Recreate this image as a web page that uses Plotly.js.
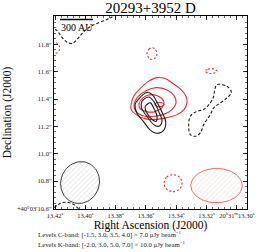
<!DOCTYPE html>
<html>
<head>
<meta charset="utf-8">
<script src="https://cdn.plot.ly/plotly-3.0.1.min.js"></script>
<style>html,body{margin:0;padding:0;background:#fff;}#chart{width:264px;height:252px;}</style>
</head>
<body>
<div id="chart"></div>
<script>
// Axis ticks
const raTicks = [13.42, 13.40, 13.38, 13.36, 13.34, 13.32, 13.30];
const raTickText = ['13.42<sup>s</sup>', '13.40<sup>s</sup>', '13.38<sup>s</sup>', '13.36<sup>s</sup>', '13.34<sup>s</sup>', '13.32<sup>s</sup>', '20<sup>h</sup>31<sup>m</sup>13.30<sup>s</sup>'];
const decTicks = [10.6, 10.8, 11.0, 11.2, 11.4, 11.6, 11.8];
const decTickText = ['+40°03′10.6″', '10.8″', '11.0″', '11.2″', '11.4″', '11.6″', '11.8″'];

// C-band contours (red), RA seconds / Dec arcsec
const c30_ra  = [13.3698, 13.3679, 13.3639, 13.3586, 13.3527, 13.3474, 13.3421, 13.3368, 13.3335, 13.3329, 13.3349, 13.3395, 13.3461, 13.3540, 13.3606, 13.3665, 13.3698, 13.3698];
const c30_dec = [11.359, 11.425, 11.476, 11.527, 11.556, 11.549, 11.513, 11.469, 11.418, 11.374, 11.323, 11.286, 11.264, 11.250, 11.257, 11.286, 11.323, 11.359];
const c35_ra  = [13.3679, 13.3652, 13.3599, 13.3533, 13.3467, 13.3415, 13.3401, 13.3428, 13.3487, 13.3560, 13.3626, 13.3665, 13.3679];
const c35_dec = [11.352, 11.418, 11.461, 11.483, 11.469, 11.425, 11.374, 11.323, 11.286, 11.272, 11.279, 11.308, 11.352];
const c40_ra  = [13.3646, 13.3619, 13.3566, 13.3514, 13.3481, 13.3494, 13.3540, 13.3599, 13.3639, 13.3646];
const c40_dec = [11.367, 11.410, 11.432, 11.418, 11.381, 11.337, 11.308, 11.308, 11.330, 11.367];
const c40b_ra  = [13.3540, 13.3527, 13.3500, 13.3481, 13.3500, 13.3527, 13.3540];
const c40b_dec = [11.359, 11.374, 11.374, 11.359, 11.345, 11.345, 11.359];
// C-band negative contours (red dashed)
const cn1_ra  = [13.3593, 13.3580, 13.3560, 13.3540, 13.3527, 13.3540, 13.3560, 13.3580, 13.3593];
const cn1_dec = [11.732, 11.764, 11.775, 11.764, 11.732, 11.699, 11.688, 11.699, 11.732];
const cn2_ra  = [13.3210, 13.3190, 13.3170, 13.3150, 13.3131, 13.3150, 13.3170, 13.3190, 13.3210];
const cn2_dec = [11.604, 11.618, 11.622, 11.618, 11.604, 11.589, 11.586, 11.589, 11.604];
const cn3_ra  = [13.4220, 13.4187, 13.4170, 13.4177, 13.4200, 13.4220];
const cn3_dec = [11.815, 11.808, 11.779, 11.746, 11.732, 11.728];
const cn4_ra  = [13.3481, 13.3463, 13.3421, 13.3379, 13.3362, 13.3379, 13.3421, 13.3463, 13.3481];
const cn4_dec = [10.786, 10.830, 10.848, 10.830, 10.786, 10.742, 10.724, 10.742, 10.786];

// K-band contours (black)
const k30_ra  = [13.3650, 13.3593, 13.3558, 13.3525, 13.3492, 13.3470, 13.3481, 13.3527, 13.3573, 13.3617, 13.3661, 13.3672, 13.3650];
const k30_dec = [11.398, 11.447, 11.432, 11.372, 11.299, 11.237, 11.175, 11.150, 11.175, 11.237, 11.299, 11.359, 11.398];
const k50_ra  = [13.3626, 13.3582, 13.3549, 13.3516, 13.3494, 13.3516, 13.3549, 13.3593, 13.3630, 13.3626];
const k50_dec = [11.383, 11.415, 11.383, 11.310, 11.237, 11.201, 11.213, 11.274, 11.335, 11.383];
const k70_ra  = [13.3604, 13.3571, 13.3549, 13.3527, 13.3533, 13.3560, 13.3586, 13.3604, 13.3604];
const k70_dec = [11.347, 11.372, 11.335, 11.274, 11.237, 11.250, 11.286, 11.323, 11.347];
// K-band negative contours (black dashed)
const kn1_ra  = [13.3131, 13.3065, 13.3036, 13.3065, 13.3109, 13.3153, 13.3175, 13.3219, 13.3241, 13.3274, 13.3307, 13.3318, 13.3307, 13.3263, 13.3219, 13.3175, 13.3153, 13.3146, 13.3131];
const kn1_dec = [11.505, 11.493, 11.449, 11.408, 11.372, 11.335, 11.286, 11.213, 11.153, 11.128, 11.140, 11.201, 11.274, 11.310, 11.323, 11.372, 11.420, 11.469, 11.505];
const kn2_ra  = [13.3791, 13.3837, 13.3903, 13.3956, 13.3995, 13.4028, 13.4055, 13.4088, 13.4121, 13.4147, 13.4167, 13.4187, 13.4207];
const kn2_dec = [12.024, 11.991, 11.961, 11.936, 11.907, 11.870, 11.834, 11.805, 11.815, 11.841, 11.870, 11.899, 11.914];
const kn3_ra  = [13.4207, 13.4180, 13.4147, 13.4108, 13.4075, 13.4042];
const kn3_dec = [10.607, 10.629, 10.644, 10.644, 10.629, 10.596];

// Beams: centre RA (s), Dec (arcsec), FWHM major/minor (arcsec), PA (deg)
const beamNames = ['K-band beam', 'C-band beam'];
const beamRA  = [13.4035, 13.3134];
const beamDec = [10.790, 10.768];
const beamMaj = [0.31, 0.39];
const beamMin = [0.29, 0.25];
const beamPA  = [150, 90];

const decDeg = 40.05;
const secPerArcsec = 1 / (15 * Math.cos(decDeg * Math.PI / 180));

function beamOutline(i) {
  const xs = [], ys = [];
  const pa = beamPA[i] * Math.PI / 180;
  const a = beamMaj[i] / 2, b = beamMin[i] / 2;
  for (let k = 0; k <= 72; k++) {
    const t = 2 * Math.PI * k / 72;
    const east = a * Math.cos(t) * Math.sin(pa) + b * Math.sin(t) * Math.cos(pa);
    const north = a * Math.cos(t) * Math.cos(pa) - b * Math.sin(t) * Math.sin(pa);
    xs.push(beamRA[i] + east * secPerArcsec);
    ys.push(beamDec[i] + north);
  }
  return {xs, ys};
}

const RED = '#ef2b2b';
const BLK = '#1a1a1a';
function line(x, y, color, dash, w) {
  return {type: 'scatter', mode: 'lines', x: x, y: y, hoverinfo: 'skip',
    line: {color: color, width: w || 1.1, dash: dash || 'solid', shape: 'spline', smoothing: 1}};
}

const traces = [];
const b0 = beamOutline(0), b1 = beamOutline(1);
traces.push({type: 'scatter', mode: 'lines', x: b0.xs, y: b0.ys, fill: 'toself', fillcolor: 'white',
  fillpattern: {shape: '/', fgcolor: '#b0b0b0', bgcolor: 'white', size: 3.5, solidity: 0.1},
  line: {color: '#3a3a3a', width: 1}, hoverinfo: 'skip', name: beamNames[0]});
traces.push({type: 'scatter', mode: 'lines', x: b1.xs, y: b1.ys, fill: 'toself', fillcolor: 'white',
  fillpattern: {shape: '/', fgcolor: '#f6b0b0', bgcolor: 'white', size: 3.5, solidity: 0.1},
  line: {color: '#f26a6a', width: 1}, hoverinfo: 'skip', name: beamNames[1]});

traces.push(line(c30_ra, c30_dec, RED));
traces.push(line(c35_ra, c35_dec, RED));
traces.push(line(c40_ra, c40_dec, RED));
traces.push(line(c40b_ra, c40b_dec, RED));
traces.push(line(cn1_ra, cn1_dec, RED, '2px,2px'));
traces.push(line(cn2_ra, cn2_dec, RED, '2px,2px'));
traces.push(line(cn3_ra, cn3_dec, RED, '2px,2px'));
traces.push(line(cn4_ra, cn4_dec, RED, '2px,2px'));
traces.push(line(k30_ra, k30_dec, BLK));
traces.push(line(k50_ra, k50_dec, BLK));
traces.push(line(k70_ra, k70_dec, BLK));
traces.push(line(kn1_ra, kn1_dec, BLK, '3px,2px'));
traces.push(line(kn2_ra, kn2_dec, BLK, '3px,2px'));
traces.push(line(kn3_ra, kn3_dec, BLK, '3px,2px'));

const SERIF = '"Liberation Serif", "DejaVu Serif", serif';
const axisCommon = {
  showline: true, linecolor: 'black', linewidth: 1, mirror: 'allticks',
  ticks: 'inside', ticklen: 4, tickwidth: 0.8, tickcolor: 'black',
  showgrid: false, zeroline: false, tickmode: 'array',
  tickfont: {family: SERIF, size: 6.5, color: '#222'}
};

const layout = {
  width: 264, height: 252,
  margin: {l: 54, r: 17, t: 16, b: 43},
  paper_bgcolor: 'white', plot_bgcolor: 'white',
  showlegend: false,
  title: {text: '20293+3952 D', font: {family: SERIF, size: 15, color: 'black'},
    x: 0.57, xref: 'container', y: 0.968, yref: 'container', xanchor: 'center', yanchor: 'middle'},
  xaxis: Object.assign({}, axisCommon, {
    range: [13.4207, 13.2933], tickvals: raTicks, ticktext: raTickText,
    minor: {ticks: 'inside', ticklen: 2, tickwidth: 0.6, tickcolor: 'black', dtick: 0.004, tick0: 13.42},
    title: {text: 'Right Ascension (J2000)', font: {family: SERIF, size: 11.5, color: 'black'}, standoff: 0}
  }),
  yaxis: Object.assign({}, axisCommon, {
    range: [10.597, 12.006], tickvals: decTicks, ticktext: decTickText,
    minor: {ticks: 'inside', ticklen: 2, tickwidth: 0.6, tickcolor: 'black', dtick: 0.04, tick0: 10.6},
    title: {text: 'Declination (J2000)', font: {family: SERIF, size: 11.5, color: 'black'}, standoff: 2}
  }),
  shapes: [
    {type: 'line', xref: 'paper', yref: 'paper', x0: 0.031, x1: 0.202, y0: 0.982, y1: 0.982,
      line: {color: 'black', width: 1.5}}
  ],
  annotations: [
    {xref: 'paper', yref: 'paper', x: 0.117, y: 0.938, text: '300 AU', showarrow: false,
      font: {family: SERIF, size: 10, color: 'black'}, xanchor: 'center', yanchor: 'middle'},
    {xref: 'paper', yref: 'paper', x: -0.095, y: -0.13, text: 'Levels C-band: [-1.5, 3.0, 3.5, 4.0] × 7.0 μJy beam<sup>−1</sup>',
      showarrow: false, font: {family: SERIF, size: 6.8, color: '#222'}, xanchor: 'left', yanchor: 'middle'},
    {xref: 'paper', yref: 'paper', x: -0.095, y: -0.182, text: 'Levels K-band: [-2.0, 3.0, 5.0, 7.0] × 10.0 μJy beam<sup>−1</sup>',
      showarrow: false, font: {family: SERIF, size: 6.8, color: '#222'}, xanchor: 'left', yanchor: 'middle'}
  ]
};

Plotly.newPlot('chart', traces, layout, {staticPlot: true, displayModeBar: false});
</script>
</body>
</html>
